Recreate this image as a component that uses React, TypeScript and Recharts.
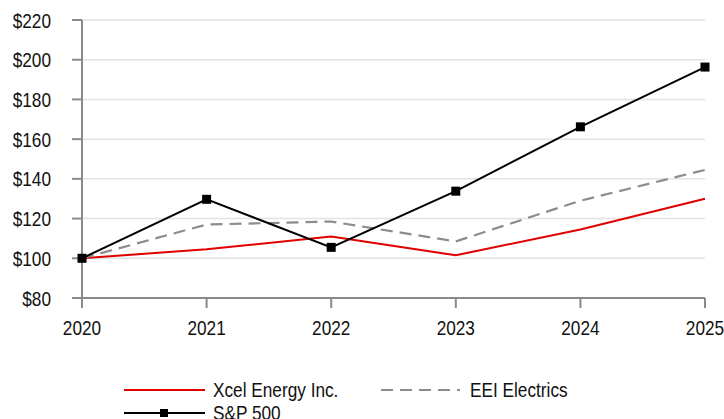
import { LineChart, Line, XAxis, YAxis, CartesianGrid } from "recharts";

const years = ["2020", "2021", "2022", "2023", "2024", "2025"];
const xcel = [100, 104.5, 111, 101.5, 114.5, 130];
const eei = [100, 117, 118.5, 108.5, 129, 144.5];
const sp500 = [100, 129.7, 105.5, 133.8, 166.2, 196.3];
const yTicks = [80, 100, 120, 140, 160, 180, 200, 220];

const data = years.map((year, i) => ({
  year,
  xcel: xcel[i],
  eei: eei[i],
  sp500: sp500[i],
}));

const FONT = "'Liberation Sans', Arial, sans-serif";
const SQUEEZE = 0.82;

// Excel-style narrow labels: Arial squeezed horizontally
const XTick = (props: any) => {
  const { x, y, payload } = props;
  return (
    <text
      transform={`translate(${x},${y + 27}) scale(${SQUEEZE},1)`}
      textAnchor="middle"
      fontSize={21}
      fill="#111"
      fontFamily={FONT}
    >
      {payload.value}
    </text>
  );
};

const YTick = (props: any) => {
  const { x, y, payload } = props;
  return (
    <text
      transform={`translate(${x},${y + 7.5}) scale(${SQUEEZE},1)`}
      textAnchor="end"
      fontSize={21}
      fill="#111"
      fontFamily={FONT}
    >
      {`$${payload.value}`}
    </text>
  );
};

const SquareDot = (props: any) => {
  const { cx, cy } = props;
  if (cx == null || cy == null) return null;
  return <rect x={cx - 4.5} y={cy - 4.5} width={9} height={9} fill="#000" />;
};

function ChartLegend() {
  const item = (left: number, top: number, label: string, line: JSX.Element) => (
    <div style={{ position: "absolute", left, top, display: "flex", alignItems: "center" }}>
      <svg width={82} height={12} style={{ marginRight: 7 }}>
        {line}
      </svg>
      <span
        style={{
          fontSize: 21,
          color: "#111",
          lineHeight: "22px",
          display: "inline-block",
          whiteSpace: "nowrap",
          transform: `scaleX(${SQUEEZE})`,
          transformOrigin: "left center",
        }}
      >
        {label}
      </span>
    </div>
  );
  return (
    <div style={{ position: "absolute", left: 0, top: 378, width: 724, height: 41, overflow: "hidden", fontFamily: FONT }}>
      {item(124, 1, "Xcel Energy Inc.", <line x1={0} y1={6} x2={81} y2={6} stroke="#e00000" strokeWidth={2} />)}
      {item(381, 1, "EEI Electrics", <line x1={0} y1={6} x2={79} y2={6} stroke="#8c8c8c" strokeWidth={2} strokeDasharray="12 7" />)}
      {item(124, 24, "S&P 500", (
        <g>
          <line x1={0} y1={6} x2={81} y2={6} stroke="#000" strokeWidth={2} />
          <rect x={36} y={2} width={8} height={8} fill="#000" />
        </g>
      ))}
    </div>
  );
}

export default function App() {
  return (
    <div style={{ position: "absolute", left: 0, top: 0, width: 724, height: 419, background: "#fff" }}>
      <LineChart
        width={724}
        height={419}
        data={data}
        margin={{ top: 20, right: 19, left: 0, bottom: 0 }}
        style={{ fontFamily: FONT }}
      >
        <CartesianGrid vertical={false} stroke="#e3e3e3" strokeWidth={1.5} />
        <XAxis
          dataKey="year"
          height={121}
          axisLine={{ stroke: "#8a8a8a", strokeWidth: 2 }}
          tickLine={{ stroke: "#8a8a8a", strokeWidth: 2 }}
          tickSize={10}
          tickMargin={0}
          tick={<XTick />}
          interval={0}
        />
        <YAxis
          width={82}
          domain={[80, 220]}
          ticks={yTicks}
          axisLine={{ stroke: "#8a8a8a", strokeWidth: 2 }}
          tickLine={{ stroke: "#8a8a8a", strokeWidth: 2 }}
          tickSize={10}
          tickMargin={21}
          tick={<YTick />}
          interval={0}
        />
        <Line
          dataKey="xcel"
          name="Xcel Energy Inc."
          stroke="#e00000"
          strokeWidth={2}
          dot={false}
          activeDot={false}
          isAnimationActive={false}
        />
        <Line
          dataKey="eei"
          name="EEI Electrics"
          stroke="#8c8c8c"
          strokeWidth={2.2}
          strokeDasharray="12 7"
          dot={false}
          activeDot={false}
          isAnimationActive={false}
        />
        <Line
          dataKey="sp500"
          name="S&P 500"
          stroke="#000"
          strokeWidth={2}
          dot={<SquareDot />}
          activeDot={false}
          isAnimationActive={false}
        />
      </LineChart>
      <ChartLegend />
    </div>
  );
}
